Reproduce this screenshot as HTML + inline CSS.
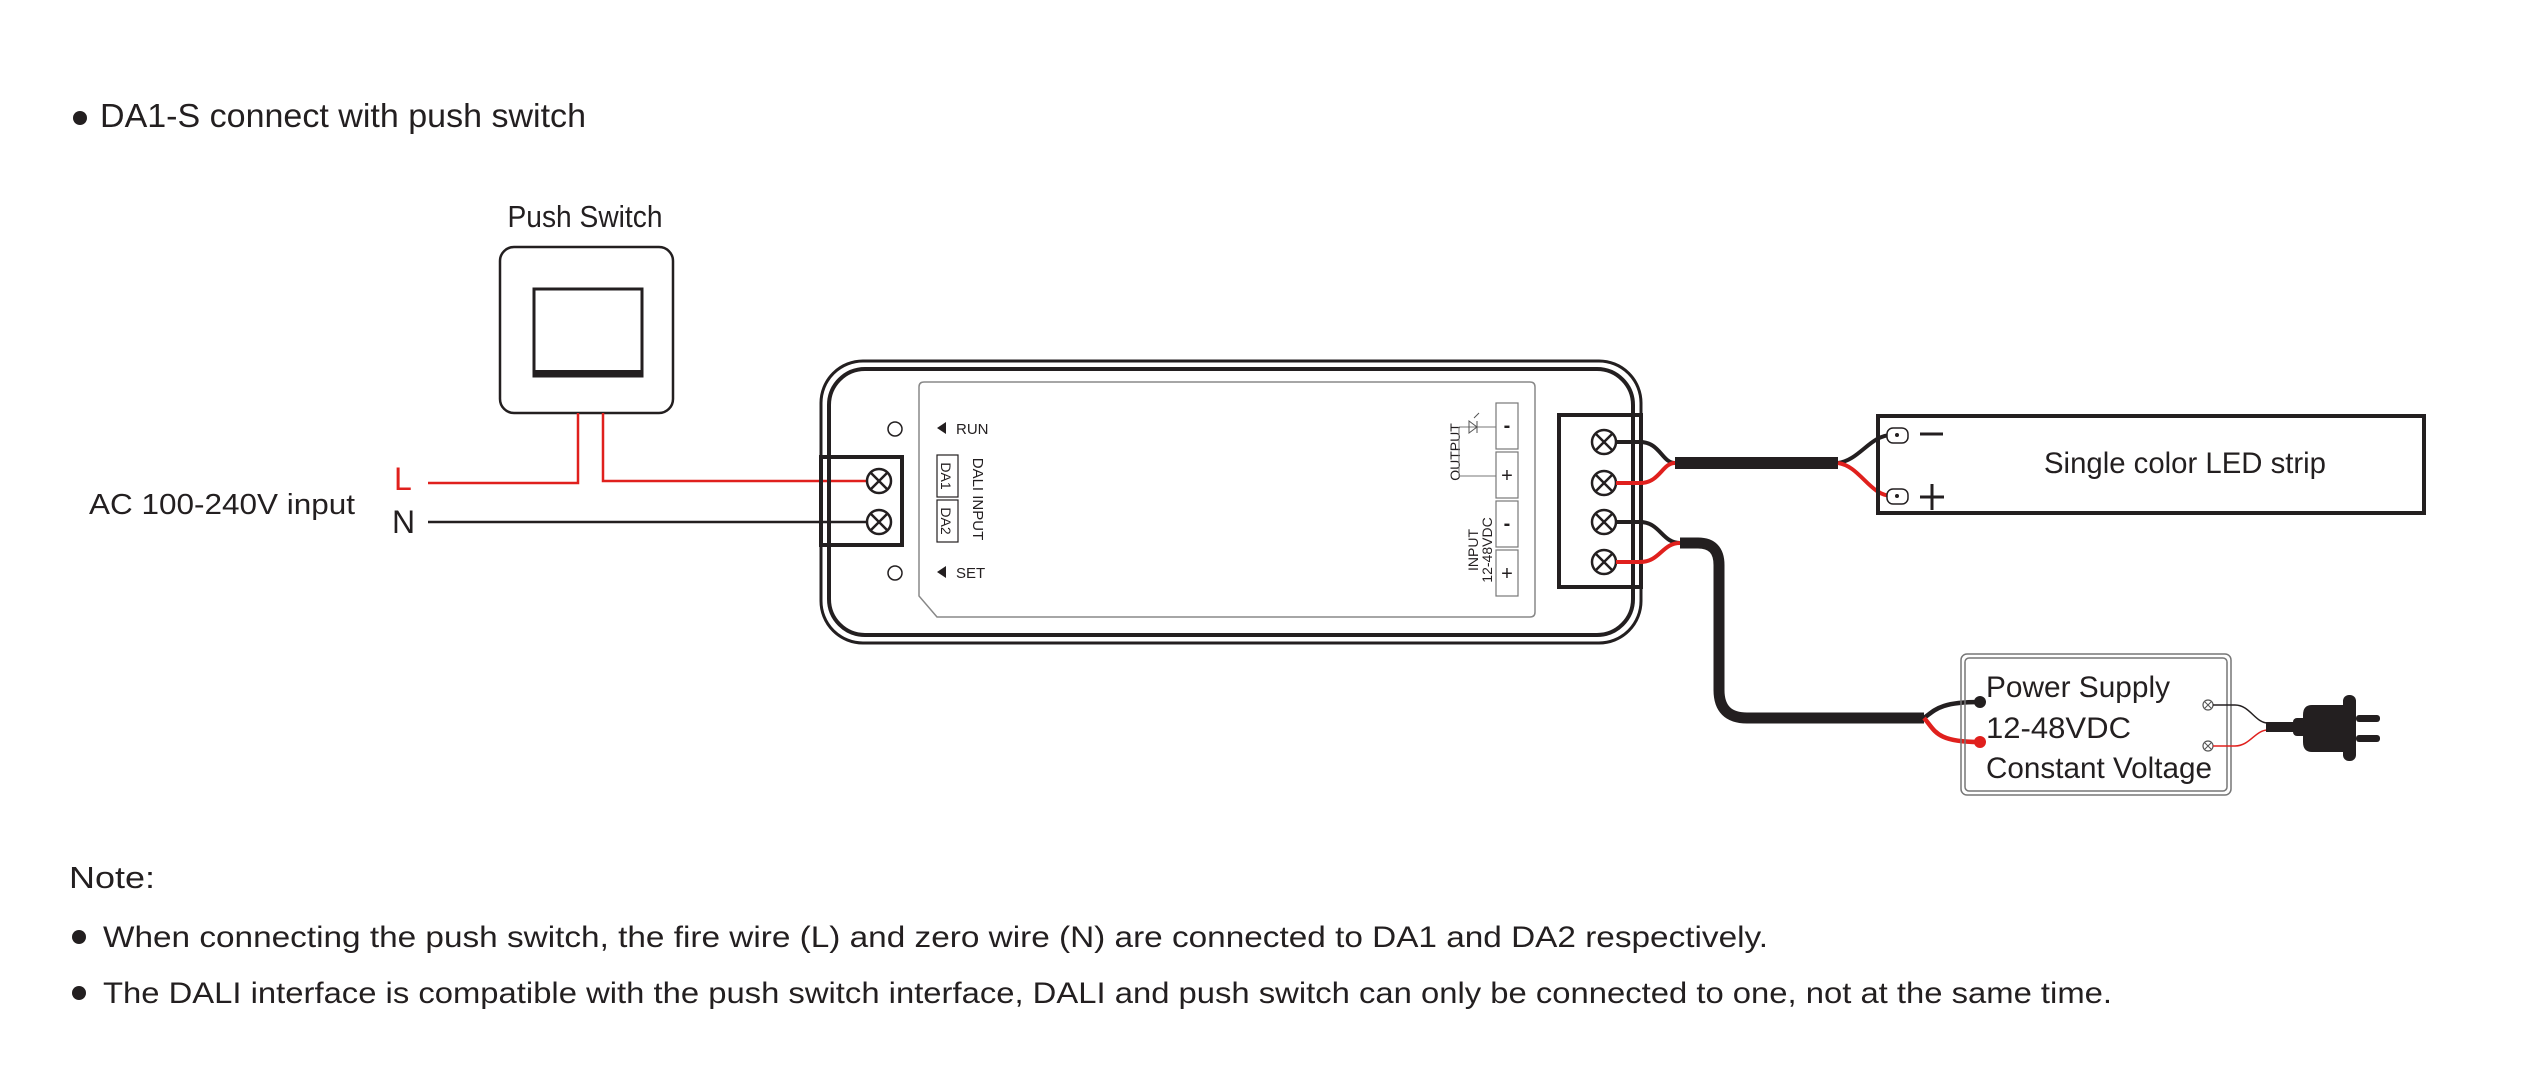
<!DOCTYPE html>
<html><head><meta charset="utf-8"><style>
html,body{margin:0;padding:0;background:#fff;}
svg{display:block;}
text{font-family:"Liberation Sans",sans-serif;fill:#231f20;}
</style></head><body>
<svg width="2528" height="1068" viewBox="0 0 2528 1068" xmlns="http://www.w3.org/2000/svg">
<!-- title -->
<circle cx="80" cy="118" r="7" fill="#231f20"/>
<text x="100" y="127" font-size="33" textLength="486" lengthAdjust="spacingAndGlyphs">DA1-S connect with push switch</text>

<!-- push switch -->
<text x="585" y="227" font-size="31" text-anchor="middle" textLength="155" lengthAdjust="spacingAndGlyphs">Push Switch</text>
<rect x="500" y="247" width="173" height="166" rx="14" fill="none" stroke="#231f20" stroke-width="2.5"/>
<rect x="534" y="289" width="108" height="87" fill="none" stroke="#231f20" stroke-width="3"/>
<rect x="534" y="370" width="108" height="6" fill="#231f20"/>

<!-- AC -->
<text x="89" y="514" font-size="29" textLength="266" lengthAdjust="spacingAndGlyphs">AC 100-240V input</text>
<text x="394" y="490" font-size="32" fill="#e0201d" style="fill:#e0201d">L</text>
<text x="392" y="533" font-size="32">N</text>
<path d="M428 483 H578 V413" fill="none" stroke="#e0201d" stroke-width="2.5"/>
<path d="M603 413 V481 H866" fill="none" stroke="#e0201d" stroke-width="2.5"/>
<path d="M428 522 H866" fill="none" stroke="#231f20" stroke-width="2.5"/>

<!-- controller -->
<rect x="821" y="361" width="820" height="282" rx="42" fill="none" stroke="#231f20" stroke-width="3"/>
<rect x="829" y="369" width="804" height="266" rx="36" fill="none" stroke="#231f20" stroke-width="4"/>
<path d="M924 382 H1530 Q1535 382 1535 387 V612 Q1535 617 1530 617 H937 L919 596 V387 Q919 382 924 382 Z" fill="none" stroke="#888" stroke-width="1.5"/>
<circle cx="895" cy="429" r="7" fill="none" stroke="#231f20" stroke-width="1.5"/>
<circle cx="895" cy="573" r="7" fill="none" stroke="#231f20" stroke-width="1.5"/>
<path d="M937 428 l9 -6 v12 z" fill="#231f20"/>
<text x="956" y="434" font-size="15">RUN</text>
<path d="M937 572 l9 -6 v12 z" fill="#231f20"/>
<text x="956" y="578" font-size="15">SET</text>
<rect x="937" y="455" width="21" height="42" fill="none" stroke="#231f20" stroke-width="1.2"/>
<rect x="937" y="500" width="21" height="42" fill="none" stroke="#231f20" stroke-width="1.2"/>
<text transform="translate(941,476) rotate(90)" font-size="14" text-anchor="middle">DA1</text>
<text transform="translate(941,521) rotate(90)" font-size="14" text-anchor="middle">DA2</text>
<text transform="translate(973,499) rotate(90)" font-size="15" text-anchor="middle">DALI INPUT</text>

<!-- output/input labels -->
<rect x="1496" y="403" width="22" height="46" fill="none" stroke="#777" stroke-width="1.2"/>
<rect x="1496" y="452" width="22" height="46" fill="none" stroke="#777" stroke-width="1.2"/>
<rect x="1496" y="501" width="22" height="46" fill="none" stroke="#777" stroke-width="1.2"/>
<rect x="1496" y="550" width="22" height="46" fill="none" stroke="#777" stroke-width="1.2"/>
<text x="1507" y="432" font-size="20" text-anchor="middle" font-weight="bold">-</text>
<text x="1507" y="482" font-size="20" text-anchor="middle">+</text>
<text x="1507" y="530" font-size="20" text-anchor="middle" font-weight="bold">-</text>
<text x="1507" y="580" font-size="20" text-anchor="middle">+</text>
<text transform="translate(1460,452) rotate(-90)" font-size="14" text-anchor="middle">OUTPUT</text>
<path d="M1459 427 H1496 M1459 427 V476 H1496" fill="none" stroke="#777" stroke-width="1"/>
<path d="M1469 421 l8 6 l-8 6 z M1477 421 v12 M1474 418 l5 -5" fill="none" stroke="#555" stroke-width="1"/>
<text transform="translate(1478,550) rotate(-90)" font-size="14" text-anchor="middle">INPUT</text>
<text transform="translate(1492,550) rotate(-90)" font-size="14" text-anchor="middle">12-48VDC</text>

<!-- left terminal -->
<rect x="821" y="457" width="81" height="88" fill="none" stroke="#231f20" stroke-width="4"/>
<line x1="829" y1="457" x2="829" y2="545" stroke="#231f20" stroke-width="3"/>
<g fill="#fff" stroke="#231f20" stroke-width="2.5">
<circle cx="879" cy="481" r="12"/><circle cx="879" cy="522" r="12"/>
</g>
<path d="M871 473 l16 16 M887 473 l-16 16 M871 514 l16 16 M887 514 l-16 16" stroke="#231f20" stroke-width="2.5"/>

<!-- right terminal -->
<rect x="1559" y="415" width="82" height="172" fill="none" stroke="#231f20" stroke-width="4"/>
<line x1="1634" y1="415" x2="1634" y2="587" stroke="#231f20" stroke-width="2"/>
<g fill="#fff" stroke="#231f20" stroke-width="2.5">
<circle cx="1604" cy="442" r="12"/><circle cx="1604" cy="483" r="12"/><circle cx="1604" cy="522" r="12"/><circle cx="1604" cy="562" r="12"/>
</g>
<path d="M1596 434 l16 16 M1612 434 l-16 16 M1596 475 l16 16 M1612 475 l-16 16 M1596 514 l16 16 M1612 514 l-16 16 M1596 554 l16 16 M1612 554 l-16 16" stroke="#231f20" stroke-width="2.5"/>

<!-- output wires -->
<path d="M1616 442 H1640 C1660 442 1662 463 1675 463" fill="none" stroke="#231f20" stroke-width="4"/>
<path d="M1616 483 H1640 C1660 483 1662 463 1675 463" fill="none" stroke="#e0201d" stroke-width="4"/>
<line x1="1675" y1="463" x2="1838" y2="463" stroke="#231f20" stroke-width="12"/>
<path d="M1838 463 C1860 460 1870 435 1892 435" fill="none" stroke="#231f20" stroke-width="4"/>
<path d="M1838 463 C1860 466 1870 496 1892 496" fill="none" stroke="#e0201d" stroke-width="4"/>

<!-- LED strip -->
<rect x="1878" y="416" width="546" height="97" fill="none" stroke="#231f20" stroke-width="4"/>
<rect x="1887" y="428" width="21" height="15" rx="6" fill="#fff" stroke="#231f20" stroke-width="1.5"/>
<rect x="1887" y="489" width="21" height="15" rx="6" fill="#fff" stroke="#231f20" stroke-width="1.5"/>
<circle cx="1897" cy="435" r="2" fill="#231f20"/><circle cx="1897" cy="496" r="2" fill="#231f20"/>
<line x1="1920" y1="434" x2="1943" y2="434" stroke="#231f20" stroke-width="3"/>
<path d="M1932 484 V510 M1920 497 H1944" stroke="#231f20" stroke-width="3"/>
<text x="2185" y="473" font-size="30" text-anchor="middle" textLength="282" lengthAdjust="spacingAndGlyphs">Single color LED strip</text>

<!-- power wires -->
<path d="M1616 522 H1640 C1660 522 1662 543 1680 543" fill="none" stroke="#231f20" stroke-width="4"/>
<path d="M1616 562 H1640 C1660 562 1662 543 1680 543" fill="none" stroke="#e0201d" stroke-width="4"/>
<path d="M1680 543 H1698 Q1719 543 1719 565 V690 Q1719 718 1747 718 H1924" fill="none" stroke="#231f20" stroke-width="11"/>
<path d="M1924 718 C1935 710 1940 702 1979 702" fill="none" stroke="#231f20" stroke-width="4.5"/>
<path d="M1924 718 C1935 730 1935 742 1979 742" fill="none" stroke="#e0201d" stroke-width="4.5"/>
<circle cx="1980" cy="702" r="6" fill="#231f20"/>
<circle cx="1980" cy="742" r="6" fill="#e0201d"/>

<!-- PSU -->
<rect x="1961" y="654" width="270" height="141" rx="6" fill="none" stroke="#777" stroke-width="1.5"/>
<rect x="1965" y="658" width="262" height="133" rx="4" fill="none" stroke="#777" stroke-width="1.5"/>
<text x="1986" y="697" font-size="30" textLength="184" lengthAdjust="spacingAndGlyphs">Power Supply</text>
<text x="1986" y="738" font-size="30" textLength="145" lengthAdjust="spacingAndGlyphs">12-48VDC</text>
<text x="1986" y="778" font-size="30" textLength="226" lengthAdjust="spacingAndGlyphs">Constant Voltage</text>
<g fill="#fff" stroke="#555" stroke-width="1.2">
<circle cx="2208" cy="705" r="5"/><circle cx="2208" cy="746" r="5"/>
</g>
<path d="M2205 702 l6 6 M2211 702 l-6 6 M2205 743 l6 6 M2211 743 l-6 6" stroke="#555" stroke-width="1"/>
<path d="M2213 705 H2235 C2250 705 2255 723 2268 723" fill="none" stroke="#231f20" stroke-width="1.5"/>
<path d="M2213 746 H2235 C2250 746 2255 730 2268 730" fill="none" stroke="#e0201d" stroke-width="1.5"/>
<rect x="2266" y="722" width="30" height="10" fill="#231f20"/>
<rect x="2293" y="718" width="14" height="18" rx="4" fill="#231f20"/>
<path d="M2312 705 H2345 V752 H2312 Q2303 752 2303 742 V715 Q2303 705 2312 705 Z" fill="#231f20"/>
<rect x="2343" y="695" width="13" height="66" rx="6" fill="#231f20"/>
<rect x="2356" y="715" width="24" height="7" rx="3" fill="#231f20"/>
<rect x="2356" y="735" width="24" height="7" rx="3" fill="#231f20"/>

<!-- notes -->
<text x="69" y="888" font-size="31" textLength="86" lengthAdjust="spacingAndGlyphs">Note:</text>
<circle cx="79" cy="937" r="7" fill="#231f20"/>
<text x="103" y="947" font-size="30" textLength="1665" lengthAdjust="spacingAndGlyphs">When connecting the push switch, the fire wire (L) and zero wire (N) are connected to DA1 and DA2 respectively.</text>
<circle cx="79" cy="993" r="7" fill="#231f20"/>
<text x="103" y="1003" font-size="30" textLength="2009" lengthAdjust="spacingAndGlyphs">The DALI interface is compatible with the push switch interface, DALI and push switch can only be connected to one, not at the same time.</text>
</svg>
</body></html>
